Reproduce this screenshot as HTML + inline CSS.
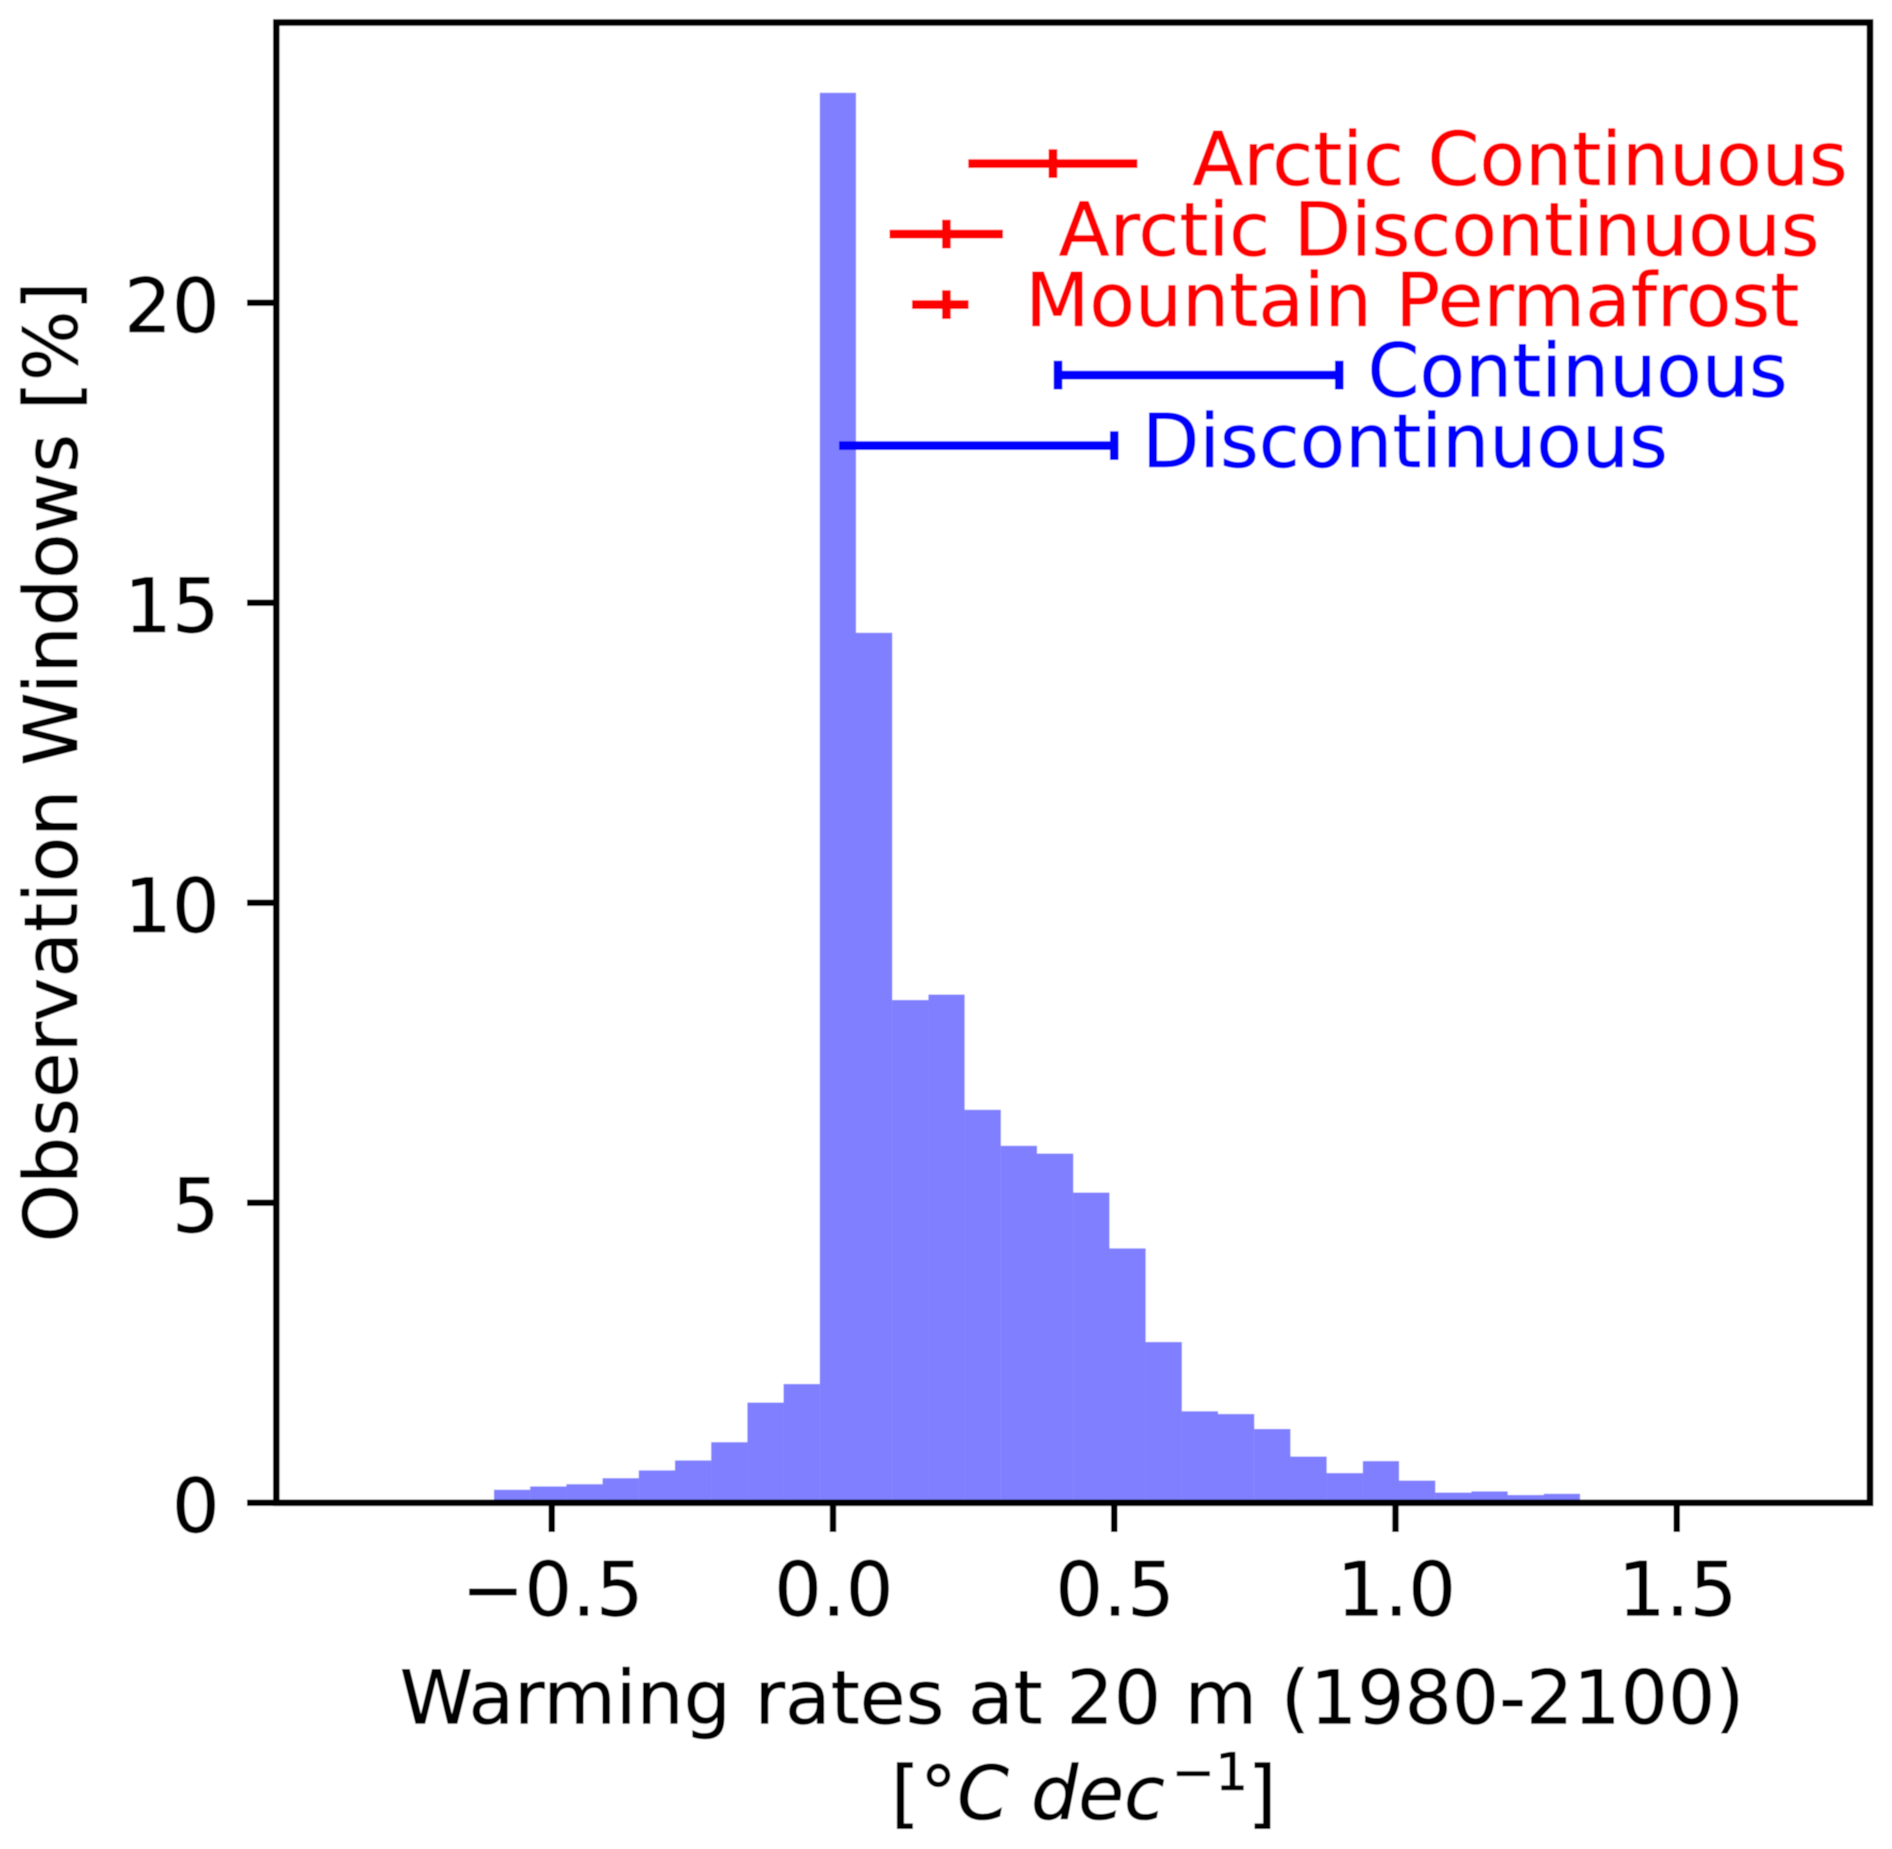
<!DOCTYPE html>
<html lang="en">
<head>
<meta charset="utf-8">
<title>Warming rates histogram</title>
<style>
  html, body { margin: 0; padding: 0; background: #fff; }
  svg { display: block; }
  text { font-family: "DejaVu Sans", "Liberation Sans", sans-serif; font-size: 74.4px; text-rendering: geometricPrecision; stroke-width: 0.5px; }
  text.tick-text { font-size: 75px; stroke: #000; }
  text.red-text { stroke: #ff0000; }
  text.blue-text { stroke: #0000ff; }
  text.black-text { stroke: #000; }
</style>
</head>
<body>
<svg id="chart" xmlns="http://www.w3.org/2000/svg" width="1892" height="1849" viewBox="0 0 1892 1849">
  <defs>
    <filter id="soften" x="0" y="0" width="100%" height="100%" filterUnits="objectBoundingBox">
      <feGaussianBlur stdDeviation="0.5"/>
    </filter>
  </defs>
  <rect x="0" y="0" width="1892" height="1849" fill="#ffffff"/>
  <g filter="url(#soften)">
    <rect x="0" y="0" width="1892" height="1849" fill="#ffffff"/>
    <g id="bars"></g>
    <g id="errorbars"></g>
    <g id="ticks"></g>
    <rect x="276.3" y="22.5" width="1593.7" height="1480.3" fill="none" stroke="#000" stroke-width="6.6"/>

    <text class="red-text" x="1192.4" y="184.8" fill="#ff0000">Arctic Continuous</text>
    <text class="red-text" x="1058.6" y="255.5" fill="#ff0000">Arctic Discontinuous</text>
    <text class="red-text" x="1025.2" y="326.2" fill="#ff0000">Mountain Permafrost</text>
    <text class="blue-text" x="1367.5" y="396.5" fill="#0000ff">Continuous</text>
    <text class="blue-text" x="1142" y="467.2" fill="#0000ff">Discontinuous</text>

    <text class="black-text" transform="translate(77 762) rotate(-90)" text-anchor="middle" fill="#000">Observation Windows [%]</text>
    <text class="black-text" x="1072" y="1723.3" text-anchor="middle" fill="#000">Warming rates at 20 m (1980-2100)</text>
    <text class="black-text" x="890.8" y="1819" fill="#000">[°<tspan font-style="italic">C</tspan><tspan x="1031" font-style="italic">dec</tspan><tspan x="1171.5" y="1790" font-size="52">−1</tspan><tspan x="1247.5" y="1819">]</tspan></text>
  </g>
</svg>
<script>
// Histogram data: percentage of observation windows per bin
const binStart = -0.6027;
const binWidth = 0.06436;
const binValues = [0.217, 0.273, 0.31, 0.41, 0.54, 0.706, 1.01, 1.67, 1.98, 23.5, 14.5, 8.38, 8.47, 6.55, 5.95, 5.82, 5.17, 4.24, 2.68, 1.525, 1.48, 1.23, 0.77, 0.495, 0.695, 0.37, 0.17, 0.19, 0.13, 0.15];

// Axis ticks
const xTickValues = [-0.5, 0, 0.5, 1, 1.5];
const xTickLabels = ['−0.5', '0.0', '0.5', '1.0', '1.5'];
const yTickValues = [0, 5, 10, 15, 20];
const yTickLabels = ['0', '5', '10', '15', '20'];

// Range bars
const rangeNames = ['arctic-continuous', 'arctic-discontinuous', 'mountain-permafrost', 'continuous', 'discontinuous'];
const rangeLow = [0.2405, 0.1005, 0.1404, 0.4, 0.0107];
const rangeHigh = [0.541, 0.302, 0.241, 0.9, 0.5];
const rangeY = [22.32, 21.145, 19.97, 18.795, 17.62];
const rangeMarks = [[0.391], [0.2016], [0.2016], [0.4, 0.9], [0.5]];
const rangeGroups = ['arctic', 'arctic', 'arctic', 'global', 'global'];

const SVG_NS = 'http://www.w3.org/2000/svg';
const xScale = v => 833 + 562.5 * v;
const yScale = v => 1502.8 - 60 * v;

function make(tag, parent, attrs) {
  const el = document.createElementNS(SVG_NS, tag);
  for (const k in attrs) el.setAttribute(k, attrs[k]);
  parent.appendChild(el);
  return el;
}

const barsGroup = document.getElementById('bars');
binValues.forEach((value, i) => {
  const x0 = xScale(binStart + i * binWidth);
  const x1 = xScale(binStart + (i + 1) * binWidth);
  const bar = make('rect', barsGroup, { x: x0, y: yScale(value), width: x1 - x0, height: yScale(0) - yScale(value), fill: '#0000ff', 'fill-opacity': 0.5 });
  
  
});

const errGroup = document.getElementById('errorbars');
rangeNames.forEach((name, i) => {
  const colour = rangeGroups[i] === 'arctic' ? '#ff0000' : '#0000ff';
  const cy = yScale(rangeY[i]);
  const line = make('line', errGroup, { x1: xScale(rangeLow[i]), x2: xScale(rangeHigh[i]), y1: cy, y2: cy, stroke: colour, 'stroke-width': 8.8 });
  
  
  rangeMarks[i].forEach(m => {
    const cap = make('line', errGroup, { x1: xScale(m), x2: xScale(m), y1: cy - 14.4, y2: cy + 14.4, stroke: colour, 'stroke-width': 8.6 });
    
    
  });
});

const tickGroup = document.getElementById('ticks');
xTickValues.forEach((v, i) => {
  const x = xScale(v);
  const tick = make('line', tickGroup, { x1: x, x2: x, y1: 1503, y2: 1532, stroke: '#000', 'stroke-width': 6.4 });
  
  
  const label = make('text', tickGroup, { x: x + 0.8, y: 1615.5, 'text-anchor': 'middle', fill: '#000', class: 'tick-text' });
  label.textContent = xTickLabels[i];
  
  
});
yTickValues.forEach((v, i) => {
  const y = yScale(v);
  const tick = make('line', tickGroup, { x1: 247, x2: 276, y1: y, y2: y, stroke: '#000', 'stroke-width': 6.4 });
  
  
  const label = make('text', tickGroup, { x: 219.6, y: y + 29, 'text-anchor': 'end', fill: '#000', class: 'tick-text' });
  label.textContent = yTickLabels[i];
  
  
});
</script>
</body>
</html>
